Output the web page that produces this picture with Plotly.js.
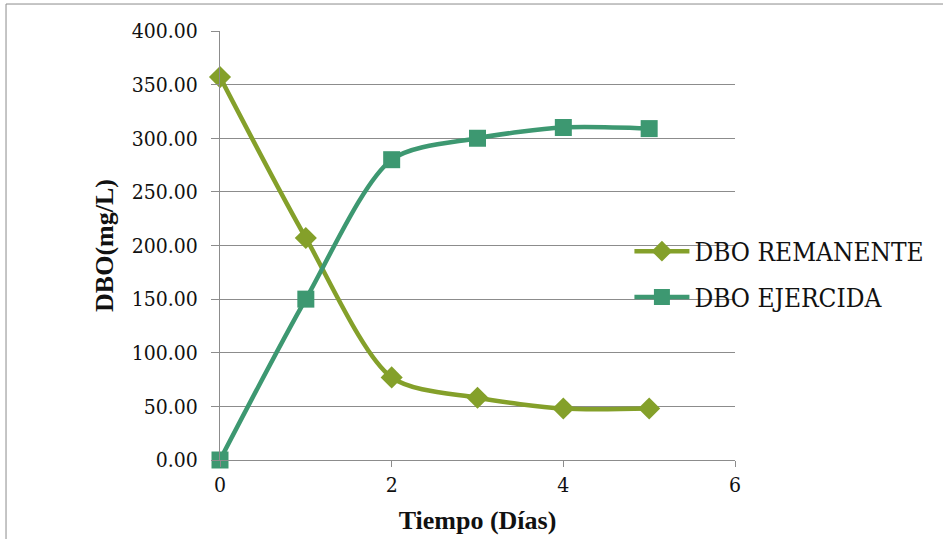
<!DOCTYPE html>
<html>
<head>
<meta charset="utf-8">
<script src="https://cdn.plot.ly/plotly-3.0.1.min.js"></script>
<style>html,body{margin:0;padding:0;background:#fff;}#chart{width:943px;height:539px;}</style>
</head>
<body>
<div id="chart"></div>
<script>
const dias = [0, 1, 2, 3, 4, 5];
const dboRemanente = [357, 207, 77, 58, 48, 48];
const dboEjercida = [0, 150, 280, 300, 310, 309];
const nombreRemanente = 'DBO REMANENTE';
const nombreEjercida = 'DBO EJERCIDA';

const FONT = 'Liberation Serif, serif';
const FONT_R = 'DejaVu Serif Condensed, DejaVu Serif, serif';
const GRID = '#8c8c8c';

const traces = [
  {x: dias, y: dboRemanente, name: nombreRemanente, type: 'scatter', mode: 'lines+markers',
   legendgroup: 'a', cliponaxis: false,
   line: {color: '#84A02A', width: 4.5, shape: 'spline', smoothing: 0.8},
   marker: {symbol: 'diamond', size: 17, color: '#84A02A'}},
  {x: dias, y: dboEjercida, name: nombreEjercida, type: 'scatter', mode: 'lines+markers',
   legendgroup: 'b', cliponaxis: false,
   line: {color: '#3D9871', width: 4.5, shape: 'spline', smoothing: 0.8},
   marker: {symbol: 'square', size: 17, color: '#3D9871'}}
];

const layout = {
  width: 943, height: 539,
  margin: {l: 220, r: 208, t: 31, b: 79},
  paper_bgcolor: '#fff', plot_bgcolor: '#fff',
  font: {family: FONT_R, color: '#111', size: 20},
  showlegend: true,
  legend: {x: 0.795, y: 0.433, xanchor: 'left', yanchor: 'middle', bgcolor: 'rgba(0,0,0,0)',
           traceorder: 'grouped', tracegroupgap: 9, itemwidth: 55,
           font: {family: FONT_R, size: 26, color: '#111'}},
  xaxis: {range: [0, 6], dtick: 2, tick0: 0, showgrid: false, zeroline: false,
          showline: true, linecolor: GRID, linewidth: 1,
          ticks: 'outside', ticklen: 6, tickcolor: GRID,
          tickfont: {family: FONT_R, size: 21, color: '#111'},
          title: {text: '<b>Tiempo (Días)</b>', font: {family: FONT, size: 26, color: '#111'}, standoff: 14}},
  yaxis: {range: [0, 400], dtick: 50, tick0: 0, tickformat: '.2f',
          showgrid: true, gridcolor: GRID, gridwidth: 1, zeroline: false,
          showline: true, linecolor: GRID, linewidth: 1,
          ticks: 'outside', ticklen: 8, tickcolor: GRID, ticklabelstandoff: 9,
          tickfont: {family: FONT_R, size: 21, color: '#111'},
          title: {text: '<b>DBO(mg/L)</b>', font: {family: FONT, size: 26, color: '#111'}, standoff: 10}},
  shapes: [
    {type: 'rect', xref: 'paper', yref: 'paper', x0: -0.4155, x1: 2, y0: -1, y1: 1.0629,
     line: {color: '#8c8c8c', width: 1}, fillcolor: 'rgba(0,0,0,0)', layer: 'below'}
  ]
};

Plotly.newPlot('chart', traces, layout, {displayModeBar: false, staticPlot: true});
</script>
</body>
</html>
